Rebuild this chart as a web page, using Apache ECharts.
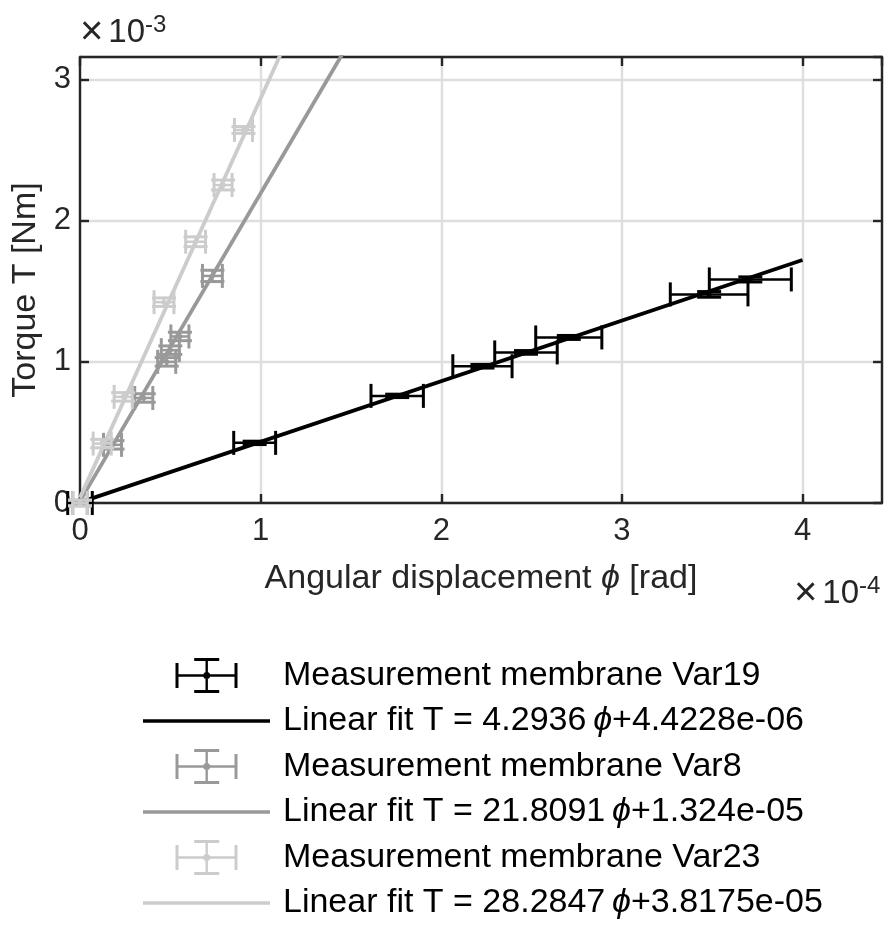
<!DOCTYPE html>
<html>
<head>
<meta charset="utf-8">
<script src="https://cdn.jsdelivr.net/npm/echarts@6/dist/echarts.min.js"></script>
<style>
  html, body { margin: 0; padding: 0; background: #ffffff; }
  #chart { width: 886px; height: 927px; }
</style>
</head>
<body>
<div id="chart"></div>
<script>
// Angular displacement phi in units of 1e-4 rad, torque T in units of 1e-3 Nm.
const PHI_SCALE = 1e-4;
const T_SCALE = 1e-3;

// Membrane Var19
const phiVar19 = [0, 0.967, 1.756, 2.228, 2.469, 2.706, 3.483, 3.711];
const torqueVar19 = [0, 0.426, 0.759, 0.969, 1.067, 1.173, 1.478, 1.584];
const phiErrVar19 = [0.068, 0.116, 0.145, 0.164, 0.173, 0.183, 0.215, 0.227];
const torqueErrVar19 = [0.008, 0.012, 0.012, 0.013, 0.013, 0.014, 0.02, 0.018];

// Membrane Var8
const phiVar8 = [0, 0.18, 0.353, 0.48, 0.50, 0.553, 0.733];
const torqueVar8 = [0, 0.412, 0.744, 1.0, 1.083, 1.18, 1.609];
const phiErrVar8 = [0.04, 0.05, 0.05, 0.05, 0.05, 0.05, 0.055];
const torqueErrVar8 = [0.02, 0.03, 0.03, 0.03, 0.03, 0.03, 0.04];

// Membrane Var23
const phiVar23 = [0, 0.123, 0.239, 0.465, 0.64, 0.792, 0.905];
const torqueVar23 = [0, 0.421, 0.752, 1.423, 1.851, 2.253, 2.643];
const phiErrVar23 = [0.04, 0.05, 0.05, 0.055, 0.055, 0.05, 0.05];
const torqueErrVar23 = [0.02, 0.03, 0.03, 0.03, 0.035, 0.035, 0.024];

// Linear fits T = slope * phi + intercept (SI units)
const fitSlopes = [4.2936, 21.8091, 28.2847];
const fitIntercepts = [4.4228e-06, 1.324e-05, 3.8175e-05];
const fitPhiRange = [0, 4]; // x 1e-4 rad

const membraneNames = ['Var19', 'Var8', 'Var23'];
const membraneColors = ['#000000', '#999999', '#cccccc'];

// Axis ticks
const xTicks = [0, 1, 2, 3, 4];
const yTicks = [0, 1, 2, 3];
const xMax = 4.44;
const yMax = 3.16;

const FONT = '"Liberation Sans", Arial, Helvetica, sans-serif';
const TEXT_COLOR = '#262626';

function expString(v) {
  // exponent written with two digits: 4.4228e-06
  const s = v.toExponential();
  return s.replace(/e([+-])(\d)$/, 'e$10$2');
}

function fitLabel(i) {
  return 'Linear fit T = ' + fitSlopes[i].toString() + '\u2009\u03d5+' + expString(fitIntercepts[i]);
}

function errRows(phi, t, ephi, et) {
  return phi.map((p, i) => [p, t[i], ephi[i], et[i]]);
}

function fitRows(i) {
  // convert SI fit to plotted units
  const a = fitSlopes[i] * PHI_SCALE / T_SCALE;
  const b = fitIntercepts[i] / T_SCALE;
  return fitPhiRange.map(p => [p, a * p + b]);
}

function makeErrorRenderer(color) {
  return function (params, api) {
    const x = api.value(0), y = api.value(1), ex = api.value(2), ey = api.value(3);
    const c = api.coord([x, y]);
    const l = api.coord([x - ex, y]);
    const r = api.coord([x + ex, y]);
    const t = api.coord([x, y + ey]);
    const b = api.coord([x, y - ey]);
    const cap = 12;
    const lw = 2.5;
    const cw = 3;
    const line = (x1, y1, x2, y2, w) => ({
      type: 'line',
      shape: { x1, y1, x2, y2 },
      style: { stroke: color, lineWidth: w }
    });
    return {
      type: 'group',
      children: [
        line(l[0], c[1], r[0], c[1], lw),
        line(c[0], t[1], c[0], b[1], lw),
        line(l[0], c[1] - cap, l[0], c[1] + cap, cw),
        line(r[0], c[1] - cap, r[0], c[1] + cap, cw),
        line(c[0] - cap, t[1], c[0] + cap, t[1], cw),
        line(c[0] - cap, b[1], c[0] + cap, b[1], cw),
        { type: 'circle', shape: { cx: c[0], cy: c[1], r: 2.5 }, style: { fill: color } }
      ]
    };
  };
}

const errData = [
  errRows(phiVar19, torqueVar19, phiErrVar19, torqueErrVar19),
  errRows(phiVar8, torqueVar8, phiErrVar8, torqueErrVar8),
  errRows(phiVar23, torqueVar23, phiErrVar23, torqueErrVar23)
];

// Legend icons: error bar cross with caps and centre dot, and a plain line
const errorIcon = 'path://M0 16.3 h62 v2.4 h-62 Z M30 0 h2.4 v35 h-2.4 Z M0 5 h3 v25 h-3 Z M59 5 h3 v25 h-3 Z M18.7 0 h25 v3 h-25 Z M18.7 32 h25 v3 h-25 Z M34.7 17.5 A3.5 3.5 0 1 1 27.7 17.5 A3.5 3.5 0 1 1 34.7 17.5 Z';
const lineIcon = 'path://M0 0 h125 v3.6 h-125 Z';

const series = [];
const legendData = [];
for (let i = 0; i < 3; i++) {
  const measName = 'Measurement membrane ' + membraneNames[i];
  const fitName = fitLabel(i);
  series.push({
    name: measName,
    type: 'custom',
    renderItem: makeErrorRenderer(membraneColors[i]),
    data: errData[i],
    encode: { x: 0, y: 1 },
    itemStyle: { color: membraneColors[i] },
    z: 2 + i * 2,
    silent: true
  });
  series.push({
    name: fitName,
    type: 'line',
    data: fitRows(i),
    showSymbol: false,
    symbol: 'none',
    clip: true,
    lineStyle: { color: membraneColors[i], width: 3.8 },
    itemStyle: { color: membraneColors[i] },
    z: 3 + i * 2,
    silent: true
  });
  legendData.push({ name: measName, icon: errorIcon, itemStyle: { color: membraneColors[i], borderWidth: 0 } });
  legendData.push({ name: fitName, icon: lineIcon, itemStyle: { color: membraneColors[i], borderWidth: 0 } });
}

const gridBox = { left: 80, right: 4, top: 57, bottom: 424 };

const axisLineStyle = { color: TEXT_COLOR, width: 2.4 };
const tickStyle = { show: true, inside: true, length: 9, lineStyle: { color: TEXT_COLOR, width: 2.4 } };

const multiplierRich = {
  x: { fontFamily: FONT, fontSize: 40, fill: TEXT_COLOR, padding: [0, 5, 0, 0] },
  m: { fontFamily: FONT, fontSize: 33, fill: TEXT_COLOR },
  s: { fontFamily: FONT, fontSize: 24, fill: TEXT_COLOR, padding: [0, 0, 16, 0] }
};

const chart = echarts.init(document.getElementById('chart'), null, { renderer: 'canvas' });
chart.setOption({
  backgroundColor: '#ffffff',
  animation: false,
  grid: gridBox,
  xAxis: [
    {
      type: 'value', min: 0, max: xMax, interval: 1, position: 'bottom',
      name: 'Angular displacement {i|\u03d5} [rad]',
      nameLocation: 'middle', nameGap: 59,
      nameTextStyle: {
        fontFamily: FONT, fontSize: 34, color: TEXT_COLOR,
        rich: { i: { fontFamily: FONT, fontSize: 34, fontStyle: 'italic', color: TEXT_COLOR } }
      },
      axisLine: { show: true, onZero: false, lineStyle: axisLineStyle },
      axisTick: tickStyle,
      splitLine: { show: true, lineStyle: { color: '#dedede', width: 2.4 } },
      axisLabel: {
        fontFamily: FONT, fontSize: 31, color: TEXT_COLOR, margin: 13,
        showMaxLabel: false, formatter: v => xTicks.indexOf(v) >= 0 ? String(v) : ''
      }
    },
    {
      type: 'value', min: 0, max: xMax, interval: 1, position: 'top',
      axisLine: { show: true, onZero: false, lineStyle: axisLineStyle },
      axisTick: tickStyle, axisLabel: { show: false }, splitLine: { show: false }
    }
  ],
  yAxis: [
    {
      type: 'value', min: 0, max: yMax, interval: 1, position: 'left',
      name: 'Torque T [Nm]',
      nameLocation: 'middle', nameGap: 30,
      nameTextStyle: { fontFamily: FONT, fontSize: 34, color: TEXT_COLOR, padding: [0, 20, 0, 0] },
      axisLine: { show: true, onZero: false, lineStyle: axisLineStyle },
      axisTick: tickStyle,
      splitLine: { show: true, lineStyle: { color: '#dedede', width: 2.4 } },
      axisLabel: {
        fontFamily: FONT, fontSize: 31, color: TEXT_COLOR, margin: 9,
        showMaxLabel: false, formatter: v => yTicks.indexOf(v) >= 0 ? String(v) : ''
      }
    },
    {
      type: 'value', min: 0, max: yMax, interval: 1, position: 'right',
      axisLine: { show: true, onZero: false, lineStyle: axisLineStyle },
      axisTick: tickStyle, axisLabel: { show: false }, splitLine: { show: false }
    }
  ],
  legend: {
    orient: 'vertical',
    left: 143, top: 658,
    padding: 0,
    itemWidth: 127, itemHeight: 35, itemGap: 11,
    selectedMode: false,
    data: legendData,
    formatter: name => name.replace('\u03d5', '{i|\u03d5}'),
    textStyle: {
      fontFamily: FONT, fontSize: 34, color: '#000000', padding: [0, 0, 0, 8],
      rich: { i: { fontFamily: FONT, fontSize: 34, fontStyle: 'italic', color: '#000000' } }
    }
  },
  graphic: [
    {
      type: 'text', left: 80, top: 13,
      style: { text: '{x|\u00d7}{m|10}{s|-3}', rich: multiplierRich }
    },
    {
      type: 'text', left: 794, top: 574,
      style: { text: '{x|\u00d7}{m|10}{s|-4}', rich: multiplierRich }
    }
  ],
  series: series
});
</script>
</body>
</html>
